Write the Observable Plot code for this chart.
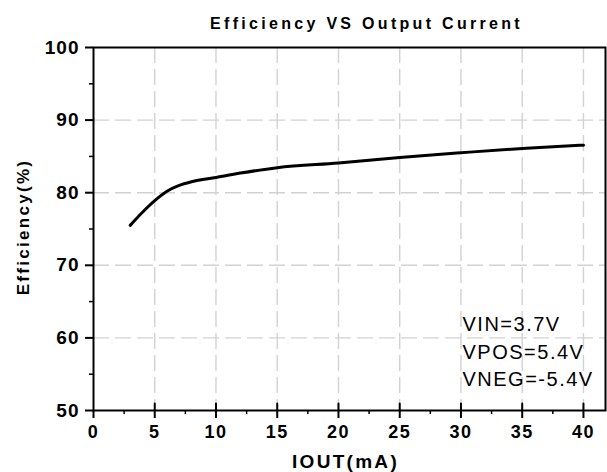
<!DOCTYPE html>
<html>
<head>
<meta charset="utf-8">
<script src="https://cdn.jsdelivr.net/npm/d3@7"></script>
<script src="https://cdn.jsdelivr.net/npm/@observablehq/plot@0.6"></script>
<style>
  html, body { margin: 0; padding: 0; background: #fff; }
  #chart svg { display: block; }
</style>
</head>
<body>
<div id="chart"></div>
<script>
const titleText = "Efficiency VS Output Current";
const xLabel = "IOUT(mA)";
const yLabel = "Efficiency(%)";
const noteLines = ["VIN=3.7V", "VPOS=5.4V", "VNEG=-5.4V"];

const iout = [3, 4, 5, 6, 7, 8, 10, 12, 15, 20, 25, 30, 35, 40];
const efficiency = [75.5, 77.3, 78.9, 80.2, 81.0, 81.5, 82.1, 82.7, 83.45, 84.1, 84.85, 85.5, 86.1, 86.55];

const xTicks = [0, 5, 10, 15, 20, 25, 30, 35, 40];
const xMinor = [2.5, 7.5, 12.5, 17.5, 22.5, 27.5, 32.5, 37.5];
const yTicks = [50, 60, 70, 80, 90, 100];
const yMinor = [55, 65, 75, 85, 95];
const xGrid = [5, 10, 15, 20, 25, 30, 35, 40];
const yGrid = [60, 70, 80, 90];
const xDomain = [0, 41.8];
const yDomain = [50, 100];

const data = iout.map((x, i) => ({x, y: efficiency[i]}));

const font = "'Liberation Sans', Arial, sans-serif";

const chart = Plot.plot({
  width: 607,
  height: 472,
  marginLeft: 93,
  marginRight: 2,
  marginTop: 47,
  marginBottom: 62,
  style: {fontFamily: font, background: "#fff", color: "#000", overflow: "visible"},
  x: {domain: xDomain},
  y: {domain: yDomain},
  marks: [
    Plot.gridX(xGrid, {stroke: "#d2d2d2", strokeOpacity: 1, strokeWidth: 1.4, strokeDasharray: "16,6"}),
    Plot.gridY(yGrid, {stroke: "#d2d2d2", strokeOpacity: 1, strokeWidth: 1.4, strokeDasharray: "16,6"}),
    Plot.axisX(xTicks, {tickSize: 8, tickPadding: 7, strokeWidth: 2, fontSize: 18, fontWeight: "bold", label: null}),
    Plot.vector(xTicks.slice(1), {x: d => d, frameAnchor: "bottom", length: 7, rotate: 0, anchor: "start", stroke: "black", strokeWidth: 2, shape: "spike", r: 0}),
    Plot.axisX(xMinor, {tickSize: 4, strokeWidth: 1.5, tickFormat: () => "", label: null}),
    Plot.axisY(yTicks, {tickSize: 8, tickPadding: 6, strokeWidth: 2, fontSize: 19, fontWeight: "bold", label: null}),
    Plot.axisY(yMinor, {tickSize: 4, strokeWidth: 1.5, tickFormat: () => "", label: null}),
    Plot.frame({stroke: "black", strokeWidth: 2}),
    Plot.line(data, {x: "x", y: "y", stroke: "black", strokeWidth: 3, curve: "monotone-x"}),
    Plot.text([titleText], {frameAnchor: "top", dx: 17, dy: -19, lineAnchor: "bottom", fontSize: 16, fontWeight: "bold", fill: "black"}),
    Plot.text([xLabel], {frameAnchor: "bottom", dx: -4, dy: 57, lineAnchor: "bottom", fontSize: 19, fontWeight: "bold", fill: "black"}),
    Plot.text([yLabel], {frameAnchor: "left", dx: -70, dy: -2, rotate: -90, textAnchor: "middle", lineAnchor: "middle", fontSize: 17, fontWeight: "bold", fill: "black"}),
    Plot.text([noteLines.join("\n")], {frameAnchor: "top-right", dx: -143, dy: 264, textAnchor: "start", lineAnchor: "top", lineHeight: 1.375, fontSize: 20, fill: "black"})
  ]
});

// letter spacing to match the wide-set lettering of the reference
const svg = d3.select(chart);
svg.selectAll('g[aria-label="x-axis tick label"] text').style("letter-spacing", "1.5px");
svg.selectAll('g[aria-label="y-axis tick label"] text').style("letter-spacing", "1px");
svg.selectAll('g[aria-label="text"] text').each(function() {
  const t = d3.select(this);
  const s = t.text();
  if (s === titleText) t.style("letter-spacing", "3.3px");
  else if (s === xLabel) t.style("letter-spacing", "2.3px");
  else if (s === yLabel) t.style("letter-spacing", "2.3px");
  else t.style("letter-spacing", "1.5px");
});

document.getElementById("chart").appendChild(chart);
</script>
</body>
</html>
